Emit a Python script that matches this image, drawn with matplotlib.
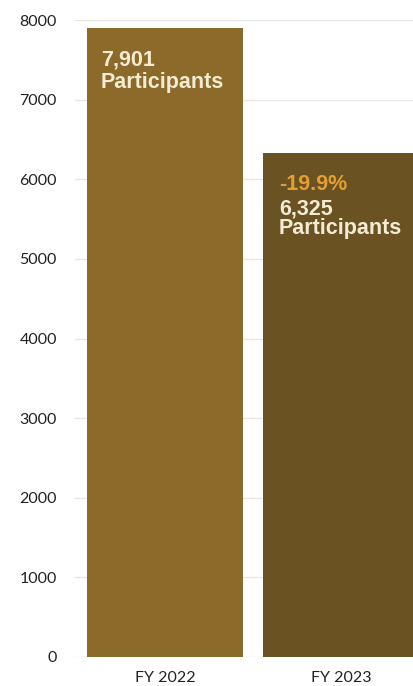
import matplotlib.pyplot as plt

#   data for the two fiscal years
years = ["FY 2022", "FY 2023"]
participants = [7901, 6325]
change_label = "-19.9%"
bar_colors = ["#8c6a29", "#6a5222"]

plt.rcParams["font.family"] = ["Lato", "DejaVu Sans"]

fig = plt.figure(figsize=(4.13, 6.86), dpi=100)
#   axes runs past the right edge, so the second bar gets cut off
ax = fig.add_axes([75 / 413, 29 / 686, 352 / 413, 637 / 686])

positions = range(len(years))
bars = ax.bar(positions, participants, width=156 / 176, color=bar_colors, zorder=2)

ax.set_xlim(-0.511, 1.489)
ax.set_ylim(0, 8000)
ax.set_yticks(range(0, 8001, 1000))
ax.set_xticks(list(positions))
ax.set_xticklabels(years)

ax.grid(axis="y", color="#e6e6e6", linewidth=1, zorder=0)
for side in ["top", "right", "left", "bottom"]:
    ax.spines[side].set_visible(False)
ax.tick_params(axis="y", length=0, pad=13, labelsize=11.5, labelcolor="#222222")
ax.tick_params(axis="x", length=0, pad=10, labelsize=11.5, labelcolor="#222222")

#   labels inside the bars, placed from the bar's top left corner (offsets in pixels)
text_font = ["Liberation Sans", "DejaVu Sans"]
text_color = "#f3ebd3"
for i, bar in enumerate(bars):
    left = bar.get_x()
    top = bar.get_height()
    if i == 1:
        dx = 16
        lines = [(change_label, "#e3a032", -37),
                 ("{:,}".format(participants[i]), text_color, -61),
                 ("Participants", text_color, -81)]
    else:
        dx = 14
        lines = [("{:,}".format(participants[i]), text_color, -38),
                 ("Participants", text_color, -60)]
    for text, color, dy in lines:
        ax.annotate(text, xy=(left, top), xytext=(dx, dy), textcoords="offset pixels",
                    ha="left", va="baseline", color=color, fontsize=15.5,
                    fontweight="bold", family=text_font, zorder=3)

fig.savefig("out.png", dpi=100)
